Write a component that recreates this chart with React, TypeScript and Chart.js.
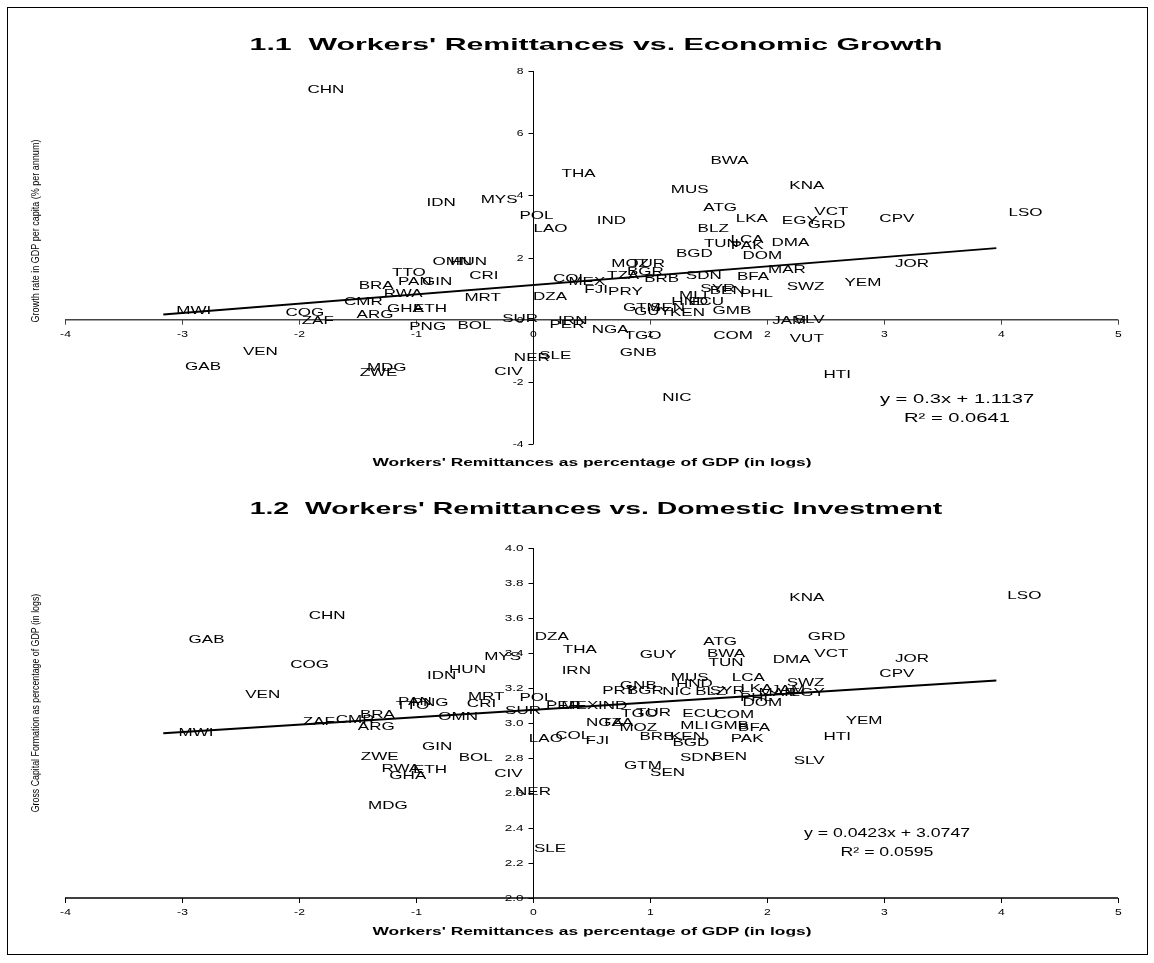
import { useEffect, useRef } from 'react';
import { Chart, registerables } from 'chart.js';

Chart.register(...registerables);

const FONT = '"Liberation Sans", Arial, Helvetica, sans-serif';

// axes
const X_TICKS = [-4, -3, -2, -1, 0, 1, 2, 3, 4, 5];
const GROWTH_TICKS = [-4, -2, 0, 2, 4, 6, 8];
const INVEST_TICKS = [2.0, 2.2, 2.4, 2.6, 2.8, 3.0, 3.2, 3.4, 3.6, 3.8, 4.0];

// fitted lines (Excel trendlines), drawn over the range of the sample
const TREND_RANGE = [-3.16, 3.96];
const GROWTH_FIT = { slope: 0.3, intercept: 1.1137, r2: 0.0641 };
const INVEST_FIT = { slope: 0.0423, intercept: 3.0747, r2: 0.0595 };

// 1.1 growth vs remittances
const GROWTH_CODES = [
  'CHN', 'IDN', 'MYS', 'POL', 'LAO', 'THA', 'BWA', 'MUS', 'KNA', 'ATG', 'VCT', 'IND', 'LKA', 'EGY', 'GRD',
  'CPV', 'LSO', 'BLZ', 'TUN', 'LCA', 'PAK', 'DMA', 'BGD', 'DOM', 'JOR', 'MOZ', 'TUR', 'BGR', 'TZA', 'COL',
  'MEX', 'BRB', 'SDN', 'BFA', 'MAR', 'FJI', 'PRY', 'SYR', 'BEN', 'PHL', 'SWZ', 'YEM', 'DZA', 'MLI', 'HND',
  'ECU', 'GTM', 'GUY', 'SEN', 'KEN', 'GMB', 'JAM', 'SLV', 'SUR', 'IRN', 'PER', 'NGA', 'TGO', 'COM', 'VUT',
  'GNB', 'NER', 'SLE', 'HTI', 'NIC', 'OMN', 'HUN', 'TTO', 'PAN', 'GIN', 'CRI', 'BRA', 'RWA', 'CMR', 'MRT',
  'MWI', 'COG', 'ZAF', 'ARG', 'GHA', 'ETH', 'PNG', 'BOL', 'VEN', 'GAB', 'MDG', 'ZWE', 'CIV',
];
const GROWTH_REMIT = [
  -1.77, -0.785, -0.29, 0.03, 0.15, 0.39, 1.68, 1.34, 2.34, 1.6, 2.55, 0.67, 1.87, 2.28, 2.51,
  3.11, 4.21, 1.54, 1.61, 1.83, 1.83, 2.2, 1.38, 1.96, 3.24, 0.83, 0.98, 0.96, 0.77, 0.32,
  0.46, 1.1, 1.46, 1.88, 2.17, 0.54, 0.79, 1.58, 1.66, 1.91, 2.33, 2.82, 0.145, 1.37, 1.34,
  1.48, 0.93, 1.02, 1.15, 1.32, 1.7, 2.19, 2.36, -0.11, 0.34, 0.29, 0.66, 0.94, 1.71, 2.34,
  0.9, -0.01, 0.19, 2.6, 1.23, -0.69, -0.55, -1.06, -1.01, -0.82, -0.42, -1.34, -1.11, -1.45, -0.43,
  -2.9, -1.95, -1.84, -1.35, -1.09, -0.88, -0.9, -0.5, -2.33, -2.82, -1.25, -1.32, -0.21,
];
const GROWTH_VALUES = [
  7.4, 3.75, 3.85, 3.35, 2.93, 4.68, 5.1, 4.17, 4.29, 3.59, 3.46, 3.17, 3.24, 3.17, 3.04,
  3.24, 3.43, 2.92, 2.44, 2.56, 2.37, 2.47, 2.12, 2.05, 1.79, 1.79, 1.79, 1.54, 1.41, 1.31,
  1.22, 1.31, 1.41, 1.38, 1.6, 0.96, 0.9, 0.99, 0.93, 0.83, 1.06, 1.19, 0.74, 0.77, 0.58,
  0.58, 0.38, 0.26, 0.38, 0.23, 0.29, -0.03, 0.0, 0.03, -0.05, -0.18, -0.32, -0.51, -0.51, -0.61,
  -1.06, -1.22, -1.15, -1.76, -2.53, 1.86, 1.86, 1.5, 1.22, 1.22, 1.41, 1.09, 0.83, 0.58, 0.7,
  0.29, 0.22, -0.03, 0.16, 0.35, 0.35, -0.22, -0.19, -1.03, -1.51, -1.54, -1.7, -1.67,
];

// 1.2 investment vs remittances
const INVEST_CODES = [
  'CHN', 'GAB', 'COG', 'MYS', 'HUN', 'IDN', 'VEN', 'MRT', 'CRI', 'TTO', 'PAN', 'PNG', 'SUR', 'OMN', 'BRA',
  'ZAF', 'CMR', 'ARG', 'MWI', 'GIN', 'ZWE', 'BOL', 'RWA', 'ETH', 'GHA', 'CIV', 'MDG', 'NER', 'SLE', 'KNA',
  'DZA', 'GRD', 'ATG', 'THA', 'GUY', 'BWA', 'VCT', 'TUN', 'DMA', 'IRN', 'MUS', 'LCA', 'HND', 'GNB', 'SWZ',
  'PRY', 'BGR', 'NIC', 'BLZ', 'SYR', 'LKA', 'JAM', 'MAR', 'EGY', 'PHL', 'DOM', 'POL', 'PER', 'MEX', 'IND',
  'TGO', 'TUR', 'ECU', 'COM', 'NGA', 'TZA', 'MOZ', 'MLI', 'GMB', 'BFA', 'YEM', 'LAO', 'COL', 'FJI', 'BRB',
  'KEN', 'BGD', 'PAK', 'HTI', 'SDN', 'BEN', 'SLV', 'GTM', 'SEN', 'LSO', 'JOR', 'CPV',
];
const INVEST_REMIT = [
  -1.76, -2.79, -1.91, -0.26, -0.56, -0.78, -2.31, -0.4, -0.44, -1.03, -1.01, -0.88, -0.085, -0.64, -1.33,
  -1.83, -1.52, -1.34, -2.88, -0.82, -1.31, -0.49, -1.13, -0.88, -1.07, -0.21, -1.24, 0.0, 0.145, 2.34,
  0.16, 2.51, 1.6, 0.4, 1.07, 1.65, 2.55, 1.65, 2.21, 0.37, 1.34, 1.84, 1.38, 0.9, 2.33,
  0.74, 0.96, 1.23, 1.52, 1.66, 1.91, 2.18, 2.09, 2.34, 1.91, 1.96, 0.03, 0.26, 0.4, 0.68,
  0.91, 1.03, 1.43, 1.72, 0.61, 0.72, 0.9, 1.38, 1.68, 1.89, 2.83, 0.11, 0.34, 0.55, 1.06,
  1.32, 1.35, 1.83, 2.6, 1.41, 1.68, 2.36, 0.94, 1.15, 4.2, 3.24, 3.11,
];
const INVEST_VALUES = [
  3.611, 3.474, 3.331, 3.377, 3.303, 3.269, 3.16, 3.149, 3.109, 3.097, 3.12, 3.114, 3.069, 3.034, 3.046,
  3.006, 3.017, 2.977, 2.943, 2.863, 2.806, 2.8, 2.737, 2.731, 2.697, 2.709, 2.526, 2.606, 2.28, 3.714,
  3.491, 3.491, 3.463, 3.417, 3.389, 3.394, 3.394, 3.343, 3.36, 3.297, 3.257, 3.257, 3.223, 3.211, 3.229,
  3.183, 3.183, 3.177, 3.177, 3.183, 3.194, 3.189, 3.171, 3.171, 3.143, 3.114, 3.143, 3.097, 3.097, 3.097,
  3.051, 3.057, 3.051, 3.046, 3.0, 3.0, 2.971, 2.983, 2.983, 2.971, 3.011, 2.909, 2.926, 2.897, 2.92,
  2.92, 2.886, 2.909, 2.92, 2.8, 2.806, 2.783, 2.754, 2.714, 3.726, 3.366, 3.28,
];

function stretched(ctx: CanvasRenderingContext2D, text: string, x: number, y: number, size: number, sx: number, align: CanvasTextAlign) {
  ctx.save();
  ctx.translate(x, y);
  ctx.scale(sx, 1);
  ctx.font = `${size}px ${FONT}`;
  ctx.fillStyle = '#000';
  ctx.textAlign = align;
  ctx.textBaseline = 'middle';
  ctx.fillText(text, 0, 0);
  ctx.restore();
}

const crossAxes = {
  id: 'crossAxes',
  beforeDatasetsDraw(chart: any, _a: any, o: any) {
    const { ctx, chartArea: ca, scales: { x, y } } = chart;
    const ax = x.getPixelForValue(0);
    const ay = y.getPixelForValue(o.xCross);
    ctx.save();
    // horizontal axis
    ctx.strokeStyle = o.xColor; ctx.lineWidth = o.xWidth;
    ctx.beginPath(); ctx.moveTo(ca.left, ay); ctx.lineTo(ca.right, ay); ctx.stroke();
    ctx.lineWidth = 1;
    o.xTicks.forEach((v: number) => {
      const px = Math.round(x.getPixelForValue(v)) + 0.5;
      ctx.beginPath(); ctx.moveTo(px, ay); ctx.lineTo(px, ay + 5); ctx.stroke();
      stretched(ctx, String(v), px, ay + 15, 9, 1.35, 'center');
    });
    // vertical axis
    ctx.strokeStyle = '#000';
    const vx = Math.round(ax) + 0.5;
    ctx.beginPath(); ctx.moveTo(vx, ca.top); ctx.lineTo(vx, ca.bottom); ctx.stroke();
    o.yTicks.forEach((v: number) => {
      const py = Math.round(y.getPixelForValue(v)) + 0.5;
      ctx.beginPath(); ctx.moveTo(vx - 5, py); ctx.lineTo(vx, py); ctx.stroke();
      stretched(ctx, o.yFmt(v), vx - 10, py, 9, o.yTickScale, 'right');
    });
    ctx.restore();
  },
};

const countryLabels = {
  id: 'countryLabels',
  afterDatasetsDraw(chart: any, _a: any, o: any) {
    const meta = chart.getDatasetMeta(0);
    meta.data.forEach((pt: any, i: number) => {
      stretched(chart.ctx, o.codes[i], pt.x, pt.y, 11.5, 1.48, 'center');
    });
    // regression equation
    const [ex, ey] = o.eqAt;
    stretched(chart.ctx, `y = ${o.fit.slope}x + ${o.fit.intercept}`, ex, ey, 13, o.eqScale, 'center');
    stretched(chart.ctx, `R\u00B2 = ${o.fit.r2}`, ex, ey + 19, 13, o.eqScale, 'center');
  },
};

interface PanelProps {
  top: number; height: number; padTop: number; padBottom: number;
  codes: string[]; xs: number[]; ys: number[];
  fit: { slope: number; intercept: number; r2: number };
  yMin: number; yMax: number; yTicks: number[]; yFmt: (v: number) => string; yTickScale: number;
  xCross: number; xColor: string; xWidth: number;
  eqAt: [number, number]; eqScale: number;
}

function LabelScatter(p: PanelProps) {
  const ref = useRef<HTMLCanvasElement>(null);
  const ci = useRef<Chart | null>(null);

  useEffect(() => {
    if (!ref.current) return;
    ci.current?.destroy();
    const pts = p.xs.map((x, i) => ({ x, y: p.ys[i] }));
    const trend = TREND_RANGE.map(x => ({ x, y: p.fit.slope * x + p.fit.intercept }));
    ci.current = new Chart(ref.current, {
      type: 'scatter',
      data: {
        datasets: [
          { data: pts, pointRadius: 0, pointHoverRadius: 0, showLine: false },
          { data: trend, showLine: true, borderColor: '#000', borderWidth: 2, pointRadius: 0, pointHoverRadius: 0 },
        ],
      },
      options: {
        animation: false, responsive: true, maintainAspectRatio: false, events: [],
        layout: { padding: { left: 65, right: 36, top: p.padTop, bottom: p.padBottom } },
        plugins: {
          legend: { display: false }, tooltip: { enabled: false },
          crossAxes: { xTicks: X_TICKS, yTicks: p.yTicks, yFmt: p.yFmt, yTickScale: p.yTickScale, xCross: p.xCross, xColor: p.xColor, xWidth: p.xWidth },
          countryLabels: { codes: p.codes, fit: p.fit, eqAt: p.eqAt, eqScale: p.eqScale },
        } as any,
        scales: {
          x: { type: 'linear', min: -4, max: 5, display: false },
          y: { type: 'linear', min: p.yMin, max: p.yMax, display: false },
        },
      },
      plugins: [crossAxes, countryLabels],
    });
    return () => { ci.current?.destroy(); ci.current = null; };
  }, []);

  return (
    <div style={{ position: 'absolute', left: 0, top: p.top, width: 1154, height: p.height }}>
      <canvas ref={ref} />
    </div>
  );
}

const txt = (s: React.CSSProperties): React.CSSProperties => ({
  position: 'absolute', whiteSpace: 'pre', fontFamily: FONT, color: '#000', lineHeight: 1, ...s,
});

export default function App() {
  return (
    <div style={{ position: 'absolute', left: 0, top: 0, width: 1154, height: 963, background: '#fff', overflow: 'hidden' }}>
      <div style={{ position: 'absolute', left: 7, top: 7, width: 1141, height: 948, border: '1px solid #000', boxSizing: 'border-box' }} />
      <LabelScatter
        top={0} height={480} padTop={71} padBottom={36}
        codes={GROWTH_CODES} xs={GROWTH_REMIT} ys={GROWTH_VALUES} fit={GROWTH_FIT}
        yMin={-4} yMax={8} yTicks={GROWTH_TICKS} yFmt={v => String(v)} yTickScale={1.35}
        xCross={0} xColor="#444" xWidth={1.5}
        eqAt={[957, 399]} eqScale={1.55}
      />
      <LabelScatter
        top={480} height={483} padTop={68} padBottom={65}
        codes={INVEST_CODES} xs={INVEST_REMIT} ys={INVEST_VALUES} fit={INVEST_FIT}
        yMin={2} yMax={4} yTicks={INVEST_TICKS} yFmt={v => v.toFixed(1)} yTickScale={1.5}
        xCross={2} xColor="#000" xWidth={1.5}
        eqAt={[887, 353]} eqScale={1.36}
      />
      <div style={txt({ left: 596, top: 44, fontSize: 17, fontWeight: 'bold', transform: 'translate(-50%, -50%) scaleX(1.78)' })}>1.1  Workers' Remittances vs. Economic Growth</div>
      <div style={txt({ left: 596, top: 508, fontSize: 17, fontWeight: 'bold', transform: 'translate(-50%, -50%) scaleX(1.67)' })}>1.2  Workers' Remittances vs. Domestic Investment</div>
      <div style={txt({ left: 592, top: 462, fontSize: 11, fontWeight: 'bold', transform: 'translate(-50%, -50%) scaleX(1.58)' })}>Workers' Remittances as percentage of GDP (in logs)</div>
      <div style={txt({ left: 592, top: 931, fontSize: 11, fontWeight: 'bold', transform: 'translate(-50%, -50%) scaleX(1.58)' })}>Workers' Remittances as percentage of GDP (in logs)</div>
      <div style={txt({ left: 35, top: 231, fontSize: 11, transform: 'translate(-50%, -50%) rotate(-90deg) scaleX(0.82)' })}>Growth rate in GDP per capita (% per annum)</div>
      <div style={txt({ left: 35, top: 703, fontSize: 11, transform: 'translate(-50%, -50%) rotate(-90deg) scaleX(0.8)' })}>Gross Capital Formation as percentage of GDP (in logs)</div>
    </div>
  );
}
